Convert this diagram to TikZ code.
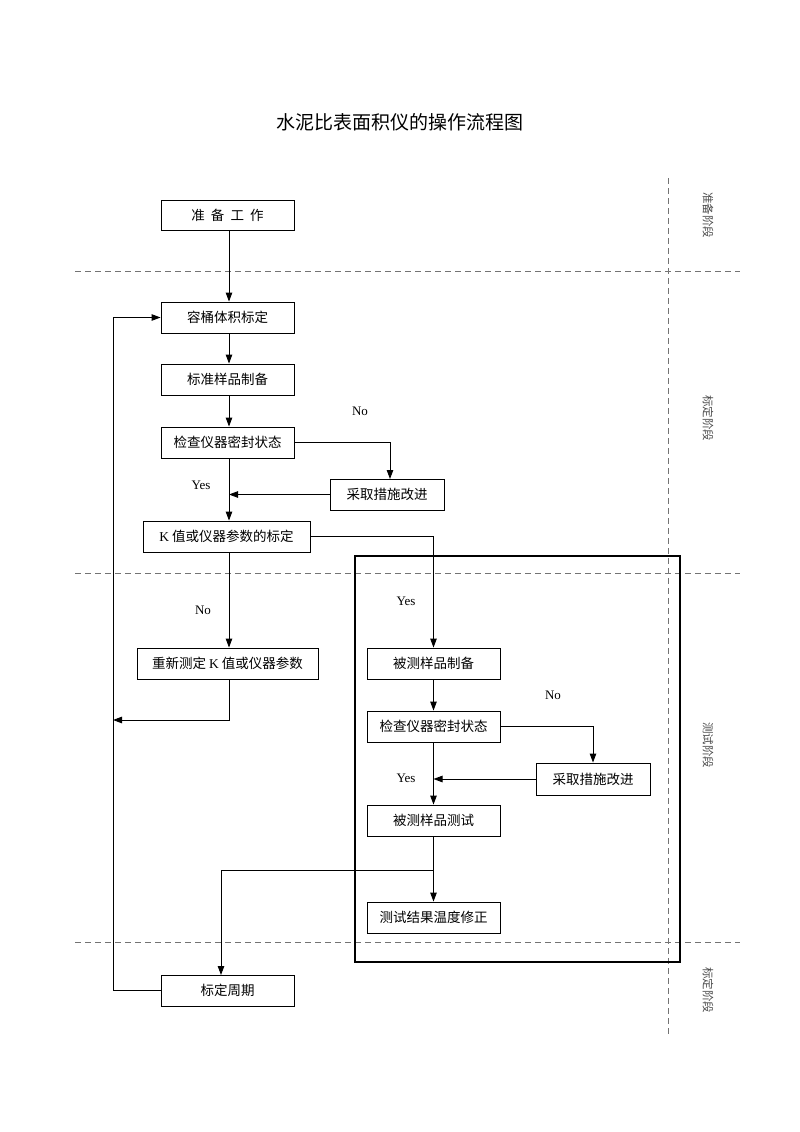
\documentclass[tikz,border=0pt]{standalone}
\usepackage{fontspec}
\setmainfont{Liberation Serif}
\newfontfamily\cjk{Noto Sans CJK SC}
\usetikzlibrary{arrows.meta}
\begin{document}
\begin{tikzpicture}[x=1pt,y=-1pt,
  box/.style={draw, line width=0.9pt, inner sep=0pt, font=\cjk\fontsize{13.5}{15}\selectfont},
  conn/.style={line width=0.9pt},
  arr/.style={conn, -{Triangle[length=9pt,width=6.5pt]}},
  lbl/.style={font=\fontsize{13}{15}\selectfont},
  phase/.style={rotate=-90, text=black!70, font=\cjk\fontsize{11.5}{13}\selectfont},
  sep/.style={line width=0.6pt, draw=black!55, dash pattern=on 6pt off 4pt}]
\useasboundingbox (0,0) rectangle (800,1132);
\fill[white] (0,0) rectangle (800,1132);

% title
\node[font=\cjk\fontsize{19}{21}\selectfont] (title) at (400,122) {水泥比表面积仪的操作流程图};

% phase separators
\draw[sep] (75,271) -- (740,271);
\draw[sep] (75,573) -- (740,573);
\draw[sep] (75,942) -- (740,942);
\draw[sep] (668,178) -- (668,1037);

% phase labels
\node[phase] (p1) at (708,215) {准备阶段};
\node[phase] (p2) at (708,418) {标定阶段};
\node[phase] (p3) at (708,745) {测试阶段};
\node[phase] (p4) at (708,990) {标定阶段};

% thick frame
\draw[line width=2.6pt] (355,556) rectangle (680,962);

% boxes
\node[box, minimum width=133pt, minimum height=30pt] (prep) at (227.5,215) {准\ \ 备\ \ 工\ \ 作};
\node[box, minimum width=133pt, minimum height=31pt] (vol) at (227.5,317.5) {容桶体积标定};
\node[box, minimum width=133pt, minimum height=31pt] (std) at (227.5,379.5) {标准样品制备};
\node[box, minimum width=133pt, minimum height=31pt] (chk1) at (227.5,442.5) {检查仪器密封状态};
\node[box, minimum width=114pt, minimum height=31pt] (fix1) at (387,494.5) {采取措施改进};
\node[box, minimum width=167pt, minimum height=31pt] (kval) at (226.5,536.5) {{\rmfamily K} 值或仪器参数的标定};
\node[box, minimum width=181pt, minimum height=31pt] (redo) at (227.5,663.5) {重新测定 {\rmfamily K} 值或仪器参数};
\node[box, minimum width=133pt, minimum height=31pt] (cyc) at (227.5,990.5) {标定周期};
\node[box, minimum width=133pt, minimum height=31pt] (smp) at (433.5,663.5) {被测样品制备};
\node[box, minimum width=133pt, minimum height=31pt] (chk2) at (433.5,726.5) {检查仪器密封状态};
\node[box, minimum width=114pt, minimum height=32pt] (fix2) at (593,779) {采取措施改进};
\node[box, minimum width=133pt, minimum height=31pt] (test) at (433.5,820.5) {被测样品测试};
\node[box, minimum width=133pt, minimum height=31pt] (corr) at (433.5,917.5) {测试结果温度修正};

% coordinates
\coordinate (lx) at (113,720);
\coordinate (loop) at (113,990.5);
\coordinate (br) at (433.5,870);
\coordinate (cycin) at (221,975);
\coordinate (fix1in) at (390,479);

% connectors
\draw[arr] ([xshift=1.5pt]prep.south) -- ([xshift=1.5pt]vol.north);
\draw[arr] ([xshift=1.5pt]vol.south) -- ([xshift=1.5pt]std.north);
\draw[arr] ([xshift=1.5pt]std.south) -- ([xshift=1.5pt]chk1.north);
\draw[arr] ([xshift=1.5pt]chk1.south) -- ([xshift=2.5pt]kval.north);
\draw[arr] (chk1.east) -| (fix1in);
\draw[arr] (fix1.west) -- ([xshift=1.5pt]chk1.south |- fix1.west);
\draw[arr] ([xshift=2.5pt]kval.south) -- ([xshift=1.5pt]redo.north);
\draw[arr] (kval.east) -| (smp.north);
\draw[arr] ([xshift=1.5pt]redo.south) |- (lx);
\draw[arr] (cyc.west) -- (loop) |- (vol.west);
\draw[arr] (smp.south) -- (chk2.north);
\draw[arr] (chk2.east) -| (fix2.north);
\draw[arr] (fix2.west) -- (chk2.south |- fix2.west);
\draw[arr] (chk2.south) -- (test.north);
\draw[arr] (test.south) -- (corr.north);
\draw[arr] (br) -| (cycin);

% labels
\node[lbl] (no1) at (360,411) {No};
\node[lbl] (yes1) at (201,485) {Yes};
\node[lbl] (no2) at (203,610) {No};
\node[lbl] (yes2) at (406,601) {Yes};
\node[lbl] (no3) at (553,695) {No};
\node[lbl] (yes3) at (406,778) {Yes};
\end{tikzpicture}
\end{document}
